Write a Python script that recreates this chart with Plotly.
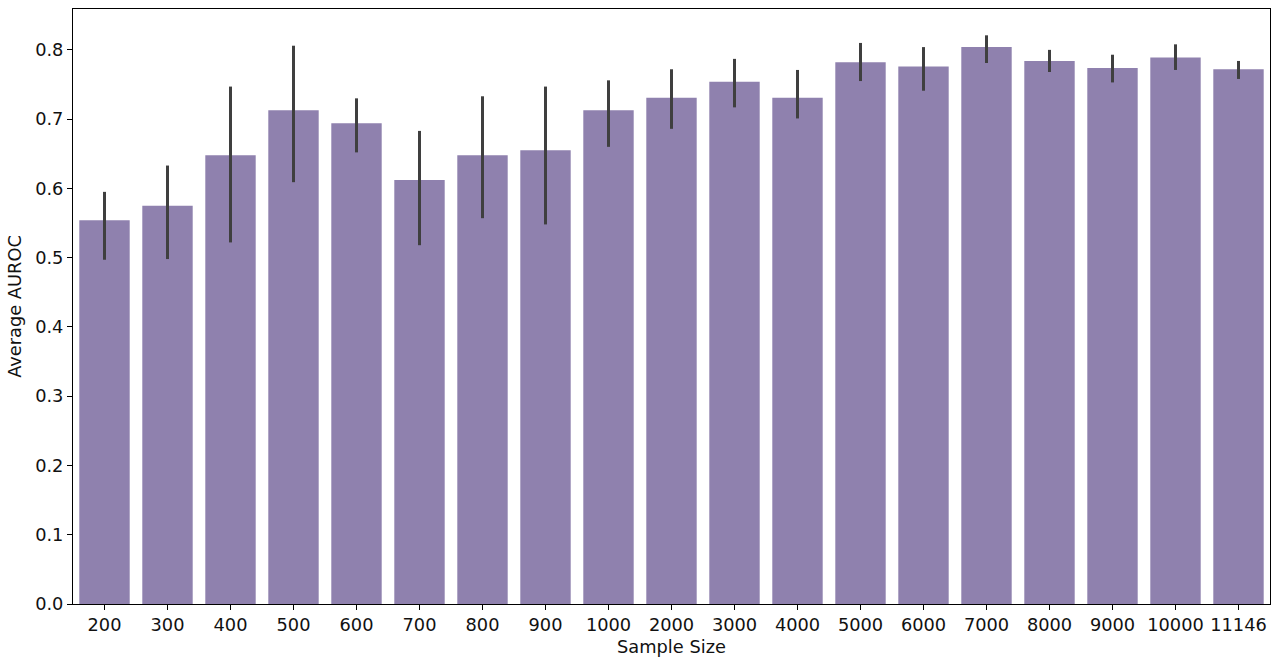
import plotly.graph_objects as go

sample_sizes = ["200", "300", "400", "500", "600", "700", "800", "900", "1000",
                "2000", "3000", "4000", "5000", "6000", "7000", "8000", "9000", "10000", "11146"]
mean_auroc = [0.554, 0.575, 0.648, 0.713, 0.694, 0.612, 0.648, 0.655, 0.713,
              0.731, 0.754, 0.731, 0.782, 0.776, 0.804, 0.784, 0.774, 0.789, 0.772]
ci_upper = [0.595, 0.633, 0.747, 0.806, 0.730, 0.683, 0.733, 0.747, 0.756,
            0.772, 0.787, 0.771, 0.810, 0.804, 0.821, 0.800, 0.793, 0.808, 0.784]
ci_lower = [0.497, 0.498, 0.522, 0.609, 0.652, 0.518, 0.557, 0.548, 0.660,
            0.686, 0.717, 0.701, 0.755, 0.741, 0.781, 0.768, 0.753, 0.771, 0.758]

err_plus = [u - m for u, m in zip(ci_upper, mean_auroc)]
err_minus = [m - l for m, l in zip(mean_auroc, ci_lower)]

fig = go.Figure()
fig.add_trace(go.Bar(
    x=sample_sizes, y=mean_auroc,
    marker=dict(color="#8f81ae", line=dict(width=0)),
    error_y=dict(type="data", symmetric=False, array=err_plus, arrayminus=err_minus,
                 color="#3f3f3f", thickness=3, width=0),
))

font = dict(family="DejaVu Sans", size=17.8, color="#111111")
fig.update_layout(
    width=1280, height=666,
    margin=dict(l=73, r=10, t=9, b=62, autoexpand=False),
    plot_bgcolor="white", paper_bgcolor="white",
    bargap=0.2, showlegend=False,
    font=font,
)
fig.update_xaxes(
    type="category", range=[-0.5, 18.5],
    showline=True, linecolor="black", linewidth=1, mirror=True,
    ticks="outside", ticklen=5, tickcolor="black", showgrid=False,
    title=dict(text="Sample Size", font=font, standoff=6),
    tickfont=font, automargin=False,
)
fig.update_yaxes(
    range=[0, 0.859], tickvals=[0, 0.1, 0.2, 0.3, 0.4, 0.5, 0.6, 0.7, 0.8],
    tickformat=".1f",
    showline=True, linecolor="black", linewidth=1, mirror=True,
    ticks="outside", ticklen=5, tickcolor="black", showgrid=False, zeroline=False,
    title=dict(text="Average AUROC", font=font, standoff=8),
    tickfont=font, automargin=False,
)
fig.write_html("out.html", config={"displayModeBar": False},
               post_script="document.body.style.margin='0';")
